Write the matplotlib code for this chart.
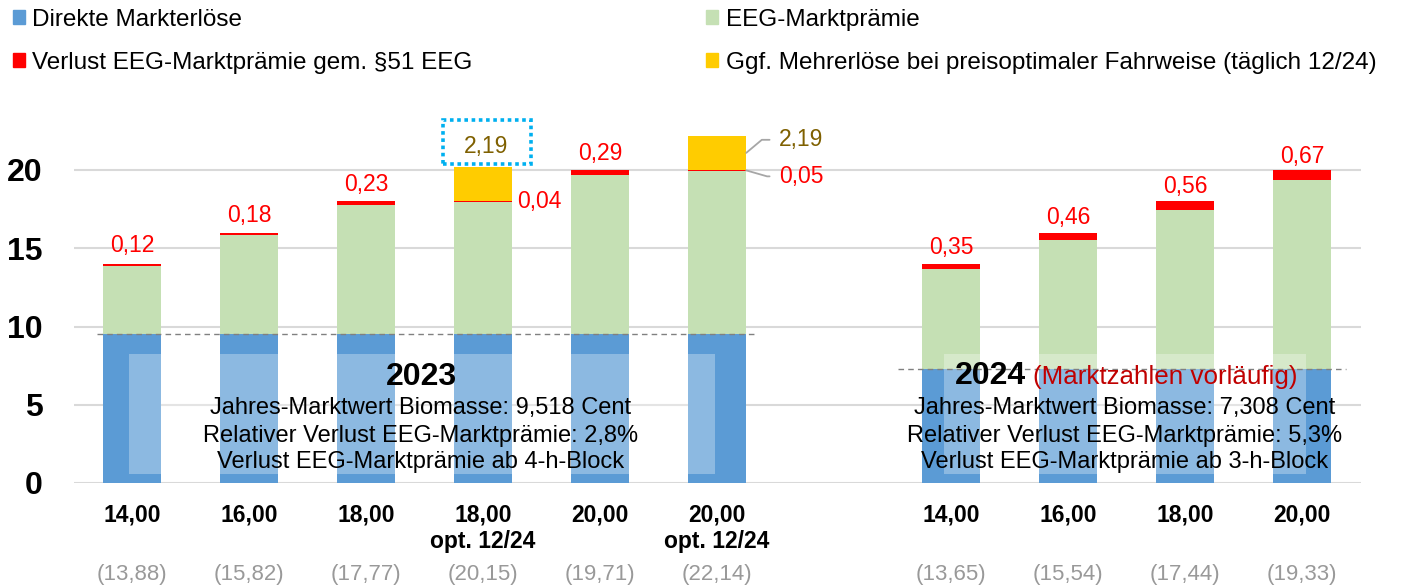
import numpy as np
import matplotlib
matplotlib.use("Agg")
import matplotlib.pyplot as plt
from matplotlib.patches import Patch, Rectangle
import matplotlib.transforms as mtransforms

plt.rcParams['font.family'] = ['Liberation Sans', 'DejaVu Sans']

# Data 2023
labels_2023 = ["14,00", "16,00", "18,00", "18,00\nopt. 12/24", "20,00", "20,00\nopt. 12/24"]
cap_2023 = np.array([14, 16, 18, 18, 20, 20], dtype=float)
loss_2023 = np.array([0.12, 0.18, 0.23, 0.04, 0.29, 0.05])
extra_2023 = np.array([0, 0, 0, 2.19, 0, 2.19])
total_2023 = ["13,88", "15,82", "17,77", "20,15", "19,71", "22,14"]
mw_2023 = 9.518

# Data 2024
labels_2024 = ["14,00", "16,00", "18,00", "20,00"]
cap_2024 = np.array([14, 16, 18, 20], dtype=float)
loss_2024 = np.array([0.35, 0.46, 0.56, 0.67])
total_2024 = ["13,65", "15,54", "17,44", "19,33"]
mw_2024 = 7.308

info_2023 = ["Jahres-Marktwert Biomasse: 9,518 Cent",
             "Relativer Verlust EEG-Marktprämie: 2,8%",
             "Verlust EEG-Marktprämie ab 4-h-Block"]
info_2024 = ["Jahres-Marktwert Biomasse: 7,308 Cent",
             "Relativer Verlust EEG-Marktprämie: 5,3%",
             "Verlust EEG-Marktprämie ab 3-h-Block"]

c_blue = "#5B9BD5"
c_green = "#C5E0B4"
c_red = "#FF0000"
c_yellow = "#FFCC00"
c_olive = "#7F6000"

def fmt(v):
    return f"{v:.2f}".replace(".", ",")

fig = plt.figure(figsize=(14.06, 5.87), dpi=100)
ax = fig.add_axes([73.5 / 1406, 104 / 587, 1287 / 1406, 391.25 / 587])

x23 = np.arange(6)
x24 = np.arange(7, 11)
w = 0.5

green_2023 = cap_2023 - mw_2023 - loss_2023
green_2024 = cap_2024 - mw_2024 - loss_2024

for xs, mw, green, loss, cap in [(x23, mw_2023, green_2023, loss_2023, cap_2023),
                                 (x24, mw_2024, green_2024, loss_2024, cap_2024)]:
    ax.bar(xs, mw, width=w, color=c_blue, lw=0, zorder=2)
    ax.bar(xs, green, bottom=mw, width=w, color=c_green, lw=0, zorder=2)
    ax.bar(xs, loss, bottom=mw + green, width=w, color=c_red, lw=0, zorder=2)
ax.bar(x23, extra_2023, bottom=cap_2023, width=w, color=c_yellow, lw=0, zorder=2)

# loss labels
for xs, loss, cap, extra in [(x23, loss_2023, cap_2023, extra_2023),
                             (x24, loss_2024, cap_2024, np.zeros(4))]:
    for x, l, c, e in zip(xs, loss, cap, extra):
        if e == 0:
            ax.annotate(fmt(l), xy=(x, c - l / 2), xytext=(0, 9), textcoords="offset points",
                        ha="center", va="baseline", color=c_red, fontsize=16.5, zorder=6)

# opt. 12/24 bar with dotted box
i = 3
ax.annotate(fmt(loss_2023[i]), xy=(x23[i] + w / 2, cap_2023[i] - loss_2023[i] / 2),
            xytext=(3.6, 0), textcoords="offset points", ha="left", va="center",
            color=c_red, fontsize=16.5, zorder=6)
top = cap_2023[i] + extra_2023[i]
ax.annotate(fmt(extra_2023[i]), xy=(x23[i], top), xytext=(2, 10), textcoords="offset points",
            ha="center", va="baseline", color=c_olive, fontsize=16.5, zorder=6)
ax.add_patch(Rectangle((x23[i] - 0.34, top + 0.19), 0.75, 2.81, fill=False, ec="#00B0F0",
                       lw=2.6, ls=(0, (1, 1)), clip_on=False, zorder=6))

# opt. 12/24 bar with leader lines
i = 5
ax.annotate(fmt(extra_2023[i]), xy=(x23[i] + w / 2, cap_2023[i] + extra_2023[i] / 2),
            xytext=(23.8, 9.4), textcoords="offset points", ha="left", va="center",
            color=c_olive, fontsize=16.5, zorder=6,
            arrowprops=dict(arrowstyle="-", color="#A6A6A6", lw=1.3, shrinkA=5, shrinkB=0,
                            relpos=(0, 0.5), connectionstyle="angle,angleA=0,angleB=40,rad=0"))
ax.annotate(fmt(loss_2023[i]), xy=(x23[i] + w / 2, cap_2023[i] - loss_2023[i] / 2),
            xytext=(23.8, -4.3), textcoords="offset points", ha="left", va="center",
            color=c_red, fontsize=16.5, zorder=6,
            arrowprops=dict(arrowstyle="-", color="#A6A6A6", lw=1.3, shrinkA=5, shrinkB=0,
                            relpos=(0, 0.5), connectionstyle="angle,angleA=0,angleB=-16,rad=0"))

# market value dashed lines
ax.plot([-0.30, 5.35], [mw_2023, mw_2023], color="#808080", lw=1, ls=(0, (4, 3)), zorder=4)
ax.plot([6.55, 10.38], [mw_2024, mw_2024], color="#808080", lw=1, ls=(0, (4, 3)), zorder=4)

# translucent text boxes
ax.add_patch(Rectangle((-0.026, 0.55), 5.01, 7.69, fc="white", alpha=0.3, lw=0, zorder=3))
ax.add_patch(Rectangle((6.94, 0.57), 3.09, 7.67, fc="white", alpha=0.3, lw=0, zorder=3))

ax.text(2.47, 6.26, "2023", ha="center", va="baseline", fontsize=23, fontweight="bold", zorder=5)
for y, s in zip([4.41, 2.62, 0.96], info_2023):
    ax.text(2.47, y, s, ha="center", va="baseline", fontsize=17, zorder=5)

ax.text(7.64, 6.33, "2024", ha="right", va="baseline", fontsize=23, fontweight="bold", zorder=5)
ax.text(7.70, 6.33, "(Marktzahlen vorläufig)", ha="left", va="baseline", fontsize=18.7,
        color="#C00000", zorder=5)
for y, s in zip([4.41, 2.62, 0.96], info_2024):
    ax.text(8.48, y, s, ha="center", va="baseline", fontsize=17, zorder=5)

# axes styling
ax.set_xlim(-0.5, 10.5)
ax.set_ylim(0, 25)
ax.set_yticks([0, 5, 10, 15, 20])
ax.yaxis.grid(True, color="#D9D9D9", lw=1.5, zorder=0)
ax.set_axisbelow(True)
for sp in ax.spines.values():
    sp.set_visible(False)
ax.tick_params(axis="y", length=0, pad=22, labelsize=23)
for t in ax.get_yticklabels():
    t.set_fontweight("bold")

ax.set_xticks(list(x23) + list(x24))
ax.set_xticklabels(labels_2023 + labels_2024, fontsize=16.5, fontweight="bold", va="top")
ax.tick_params(axis="x", length=0, pad=15)

trans = mtransforms.blended_transform_factory(ax.transData, ax.transAxes)
for x, t in zip(list(x23) + list(x24), total_2023 + total_2024):
    ax.text(x, -0.235, f"({t})", transform=trans, ha="center", va="center",
            fontsize=16, color="#999999")

handles = [Patch(color=c_blue), Patch(color=c_red), Patch(color=c_green), Patch(color=c_yellow)]
names = ["Direkte Markterlöse", "Verlust EEG-Marktprämie gem. §51 EEG",
         "EEG-Marktprämie", "Ggf. Mehrerlöse bei preisoptimaler Fahrweise (täglich 12/24)"]
fig.legend(handles, names, loc="upper left", bbox_to_anchor=(13 / 1406, 1 - 9 / 587), ncol=2,
           frameon=False, fontsize=17.5, handlelength=0.5, handleheight=0.5, handletextpad=0.3,
           columnspacing=9.6, labelspacing=0.85, borderpad=0, borderaxespad=0)

plt.savefig("out.png", dpi=100)
